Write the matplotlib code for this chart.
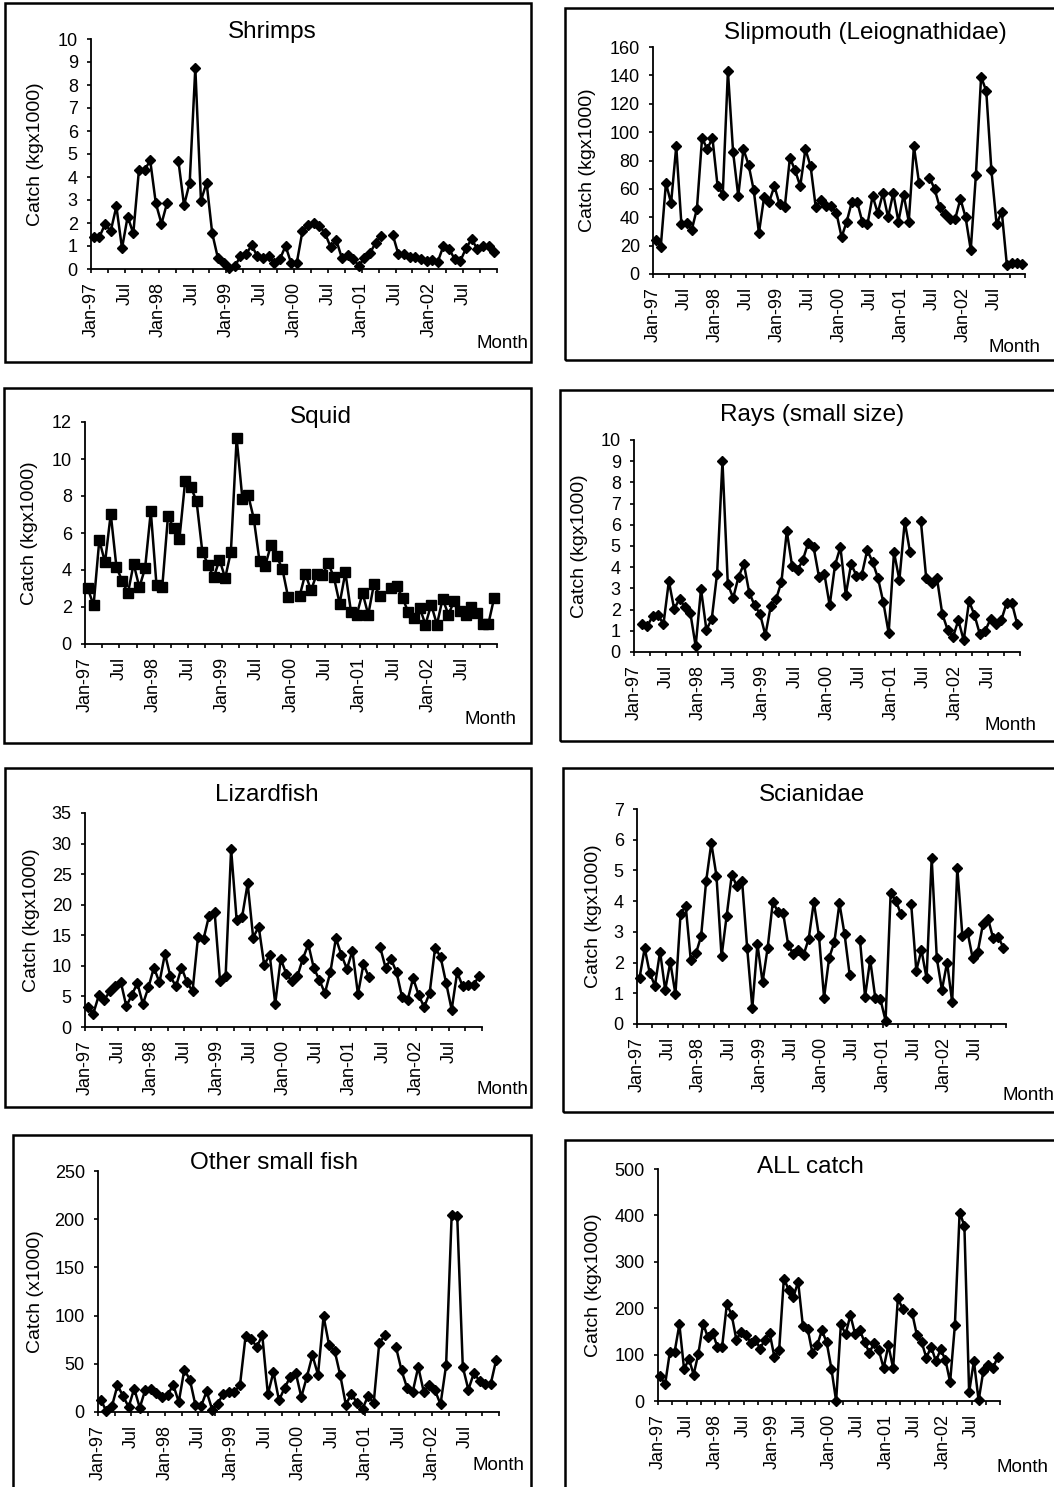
import numpy as np
import matplotlib
matplotlib.use("Agg")
import matplotlib.pyplot as plt
from matplotlib.patches import Rectangle

nan = np.nan
W, H = 1054, 1487

# month index 0 = Jan-97 ... 71 = Dec-02
tick_months = list(range(0, 73, 3))
tick_labels = ["Jan-97", "", "Jul", "", "Jan-98", "", "Jul", "", "Jan-99", "", "Jul", "",
               "Jan-00", "", "Jul", "", "Jan-01", "", "Jul", "", "Jan-02", "", "Jul", "", ""]

shrimps = [1.39, 1.4, 1.95, 1.65, 2.72, 0.9, 2.28, 1.55, 4.3, 4.3,
           4.72, 2.85, 1.97, 2.88, nan, 4.7, 2.77, 3.75, 8.75, 2.97,
           3.75, 1.55, 0.48, 0.25, 0.05, 0.12, 0.55, 0.65, 1.03, 0.55,
           0.48, 0.55, 0.28, 0.43, 1.0, 0.25, 0.28, 1.65, 1.9, 2.02,
           1.88, 1.55, 0.95, 1.25, 0.47, 0.62, 0.45, 0.13, 0.5, 0.7,
           1.15, 1.45, nan, 1.5, 0.65, 0.65, 0.52, 0.52, 0.42, 0.33,
           0.38, 0.32, 1.0, 0.87, 0.43, 0.35, 0.9, 1.3, 0.87, 1.0, 0.98, 0.75]

slipmouth = [24, 19, 64, 50, 90, 35, 36, 31, 46, 96,
             88, 96, 62, 56, 143, 86, 55, 88, 77, 59,
             29, 54, 51, 62, 49, 47, 82, 73, 62, 88,
             76, 47, 52, 48, 48, 43, 26, 37, 51, 51,
             37, 35, 55, 43, 57, 40, 57, 37, 56, 37,
             90, 64, nan, 68, 60, 47, 42, 39, 39, 53,
             40, 17, 70, 139, 129, 73, 35, 44, 6, 8, 8, 7]

squid = [3.0, 2.09, 5.62, 4.41, 7.03, 4.14, 3.42, 2.74, 4.34, 3.06,
         4.1, 7.17, 3.17, 3.08, 6.9, 6.27, 5.68, 8.79, 8.49, 7.71,
         5.0, 4.29, 3.6, 4.56, 3.57, 5.0, 11.13, 7.86, 8.07, 6.77,
         4.47, 4.23, 5.37, 4.74, 4.05, 2.52, nan, 2.58, 3.8, 2.9,
         3.78, 3.71, 4.38, 3.6, 2.18, 3.87, 1.71, 1.59, 2.76, 1.59,
         3.24, 2.61, nan, 3.03, 3.12, 2.49, 1.71, 1.4, 1.95, 1.05,
         2.13, 1.05, 2.45, 1.59, 2.31, 1.8, 1.59, 1.98, 1.68, 1.1, 1.1, 2.49]

rays = [nan, 1.32, 1.23, 1.7, 1.73, 1.32, 3.34, 2.02, 2.52, 2.1,
        1.85, 0.28, 2.97, 1.05, 1.55, 3.7, 9.0, 3.2, 2.55, 3.55,
        4.15, 2.8, 2.2, 1.8, 0.8, 2.15, 2.5, 3.3, 5.7, 4.05,
        3.85, 4.35, 5.15, 4.95, 3.55, 3.7, 2.2, 4.1, 4.95, 2.7,
        4.15, 3.6, 3.65, 4.8, 4.25, 3.5, 2.35, 0.9, 4.7, 3.4,
        6.15, 4.7, nan, 6.2, 3.5, 3.25, 3.5, 1.8, 1.05, 0.7,
        1.5, 0.55, 2.4, 1.75, 0.85, 1.0, 1.55, 1.3, 1.5, 2.3, 2.3, 1.3]

lizardfish = [3.26, 2.17, 5.16, 4.46, 5.82, 6.63, 7.34, 3.37, 5.27, 7.17,
              3.75, 6.47, 9.73, 7.28, 11.96, 8.26, 6.63, 9.73, 7.34, 5.82,
              14.78, 14.4, 18.2, 18.86, 7.45, 8.26, 29.08, 17.5, 18.04, 23.48,
              14.62, 16.41, 10.16, 11.79, 3.8, 11.14, 8.7, 7.45, 8.26, 11.14,
              13.53, 9.62, 7.72, 5.54, 8.97, 14.51, 11.79, 9.51, 12.45, 5.38,
              10.27, 8.15, nan, 13.15, 9.73, 11.09, 8.97, 4.89, 4.35, 7.99,
              5.27, 3.26, 5.54, 12.99, 11.41, 7.17, 2.83, 8.97, 6.63, 6.9, 6.9, 8.42]

scianidae = [1.51, 2.47, 1.65, 1.25, 2.36, 1.11, 2.01, 0.97, 3.58, 3.85,
             2.07, 2.3, 2.85, 4.66, 5.89, 4.83, 2.2, 3.53, 4.86, 4.48,
             4.66, 2.47, 0.53, 2.6, 1.36, 2.49, 3.97, 3.66, 3.63, 2.58,
             2.27, 2.41, 2.25, 2.77, 3.97, 2.87, 0.86, 2.16, 2.66, 3.93,
             2.92, 1.6, nan, 2.74, 0.89, 2.09, 0.84, 0.8, 0.11, 4.28,
             4.01, 3.58, nan, 3.9, 1.74, 2.41, 1.49, 5.4, 2.14, 1.11,
             2.0, 0.71, 5.08, 2.85, 2.99, 2.14, 2.36, 3.25, 3.42, 2.79, 2.82, 2.49]

other_small = [12.8, 0.7, 5.9, 27.7, 16.6, 5.2, 24.2, 4.5, 23.2, 24.2,
               19.7, 15.6, 17.3, 28.4, 10.4, 43.9, 33.5, 6.9, 5.9, 21.4,
               2.4, 8.6, 19.0, 20.7, 20.7, 28.4, 78.8, 76.1, 67.4, 79.5,
               18.3, 41.5, 12.1, 24.9, 36.3, 40.8, 15.6, 36.3, 58.8, 38.7,
               99.2, 69.2, 63.3, 38.0, 7.6, 19.0, 9.3, 3.5, 16.6, 9.3,
               71.6, 79.5, nan, 67.4, 43.2, 24.9, 20.7, 46.7, 20.7, 28.4,
               22.5, 8.0, 48.4, 204, 203, 46.7, 23.2, 40.5, 32.2, 28.7, 28.7, 54.3]

all_catch = [53, 36, 106, 106, 165, 68, 91, 57, 102, 167,
             137, 147, 117, 117, 209, 186, 132, 149, 143, 126,
             132, 113, 132, 147, 95, 109, 264, 240, 224, 257,
             162, 156, 104, 120, 152, 127, 70, 0, 165, 144,
             185, 144, 152, 127, 104, 125, 109, 71, 120, 71,
             221, 199, nan, 190, 142, 127, 93, 117, 86, 111,
             89, 41, 163, 406, 378, 19, 86, 1.4, 65, 77, 71, 94]

# layout in pixels: axes (left, right, y of 0, y of top), frame (x0, y0, x1, y1)
panels = [
    ("Shrimps", shrimps, 10, 1, "Catch (kgx1000)", "D",
     (91, 497, 269, 39), (5, 3, 531, 362), (272, 32), 36, (503, 343)),
    ("Slipmouth (Leiognathidae)", slipmouth, 160, 20, "Catch (kgx1000)", "D",
     (653, 1025, 274, 47), (565, 8, 1060, 360), (865, 33), 587, (1015, 347)),
    ("Squid", squid, 12, 2, "Catch (kgx1000)", "s",
     (85, 497, 644, 422), (4, 388, 531, 743), (321, 417), 29, (490, 720)),
    ("Rays (small size)", rays, 10, 1, "Catch (kgx1000)", "D",
     (634, 1020, 652, 440), (560, 390, 1060, 741), (812, 415), 580, (1010, 725)),
    ("Lizardfish", lizardfish, 35, 5, "Catch (kgx1000)", "D",
     (85, 482, 1027, 813), (5, 768, 531, 1107), (267, 795), 31, (503, 1090)),
    ("Scianidae", scianidae, 7, 1, "Catch (kgx1000)", "D",
     (637, 1006, 1024, 809), (563, 768, 1060, 1112), (812, 795), 593, (1028, 1095)),
    ("Other small fish", other_small, 250, 50, "Catch (x1000)", "D",
     (98, 499, 1412, 1171), (13, 1135, 531, 1495), (274, 1163), 35, (498, 1465)),
    ("ALL catch", all_catch, 500, 100, "Catch (kgx1000)", "D",
     (658, 1000, 1401, 1169), (565, 1140, 1060, 1495), (810, 1167), 593, (1022, 1468)),
]

plt.rcParams["font.family"] = ["Liberation Sans", "DejaVu Sans"]

fig = plt.figure(figsize=(W / 100, H / 100), dpi=100)
x = np.arange(72) + 0.5

for title, vals, ymax, ystep, ylab, mk, axpx, box, tpos, ylx, mpos in panels:
    L, R, B, T = axpx
    ax = fig.add_axes([L / W, 1 - B / H, (R - L) / W, (B - T) / H])
    ms = 6.5 if mk == "s" else 5.3
    ax.plot(x, vals, color="black", lw=1.8, marker=mk, ms=ms, clip_on=False)
    ax.set_xlim(0, 72)
    ax.set_ylim(0, ymax)
    ax.set_yticks(np.arange(0, ymax + ystep / 2, ystep))
    ax.set_xticks(tick_months)
    ax.set_xticklabels(tick_labels, rotation=90)
    for s in ("top", "right"):
        ax.spines[s].set_visible(False)
    for s in ("left", "bottom"):
        ax.spines[s].set_linewidth(1.3)
    ax.tick_params(direction="out", length=3, width=1.2, labelsize=13, pad=6.5)
    ax.set_ylabel(ylab, fontsize=14, va="center")
    ax.yaxis.set_label_coords((ylx - L) / (R - L), 0.5)

    fig.text(tpos[0] / W, 1 - tpos[1] / H, title, fontsize=17.5, ha="center", va="center")
    fig.text(mpos[0] / W, 1 - mpos[1] / H, "Month", fontsize=13.5, ha="center", va="center")
    x0, y0, x1, y1 = box
    fig.add_artist(Rectangle((x0 / W, 1 - y1 / H), (x1 - x0) / W, (y1 - y0) / H,
                             transform=fig.transFigure, fill=False, lw=1.8, ec="black"))

fig.savefig("out.png", dpi=100)
print("Wrote out.png")
